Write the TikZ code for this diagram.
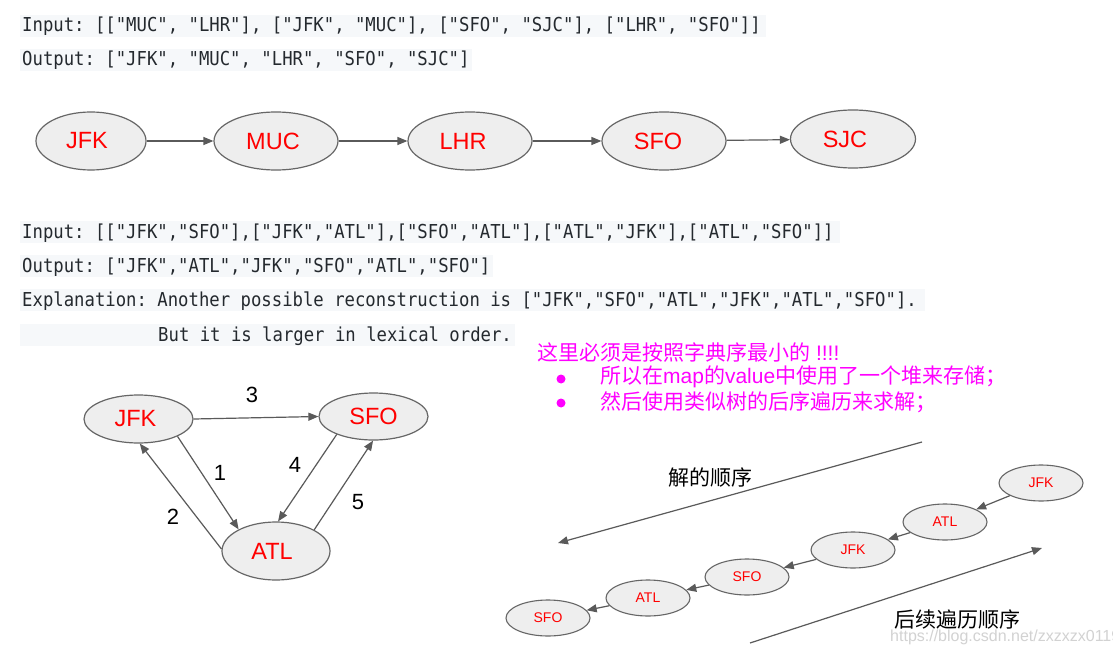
\documentclass[tikz,border=0pt]{standalone}
\usepackage{fontspec}
\setmainfont{Liberation Sans}
\setmonofont[FakeStretch=0.9]{DejaVu Sans Mono}
\newfontfamily\cjk{Noto Sans CJK SC}
\usetikzlibrary{shapes.geometric,arrows.meta}
\definecolor{codebg}{HTML}{F6F8FA}
\definecolor{codefg}{HTML}{24292E}
\definecolor{nodefill}{HTML}{EEEEEE}
\definecolor{nodeline}{HTML}{666666}
\definecolor{arrowc}{HTML}{5A5A5A}
\definecolor{pinktext}{HTML}{FF00FF}
\definecolor{wmark}{HTML}{D2D2D2}
\begin{document}
\begin{tikzpicture}[x=1pt,y=-1pt,
  code/.style={anchor=base west, inner sep=0pt, font=\ttfamily\fontsize{19.2}{22}\selectfont, text=codefg},
  bignode/.style={ellipse, draw=nodeline, fill=nodefill, line width=1.2pt, inner sep=0pt, text=red, font=\fontsize{23.5}{26}\selectfont},
  smallnode/.style={ellipse, draw=nodeline, fill=nodefill, line width=1.1pt, minimum width=84pt, minimum height=36pt, inner sep=0pt, text=red, font=\fontsize{14}{16}\selectfont},
  conn/.style={draw=arrowc, line width=1.2pt, -{Triangle[length=10pt,width=8pt]}},
  numlab/.style={inner sep=0pt, font=\fontsize{22}{24}\selectfont, text=black},
  cjklab/.style={inner sep=0pt, font=\cjk\fontsize{21}{24}\selectfont, text=black},
  pinklab/.style={anchor=west, inner sep=0pt, font=\cjk\fontsize{21}{24}\selectfont, text=pinktext},
  bulletdot/.style={circle, fill=pinktext, minimum size=9pt, inner sep=0pt}
]
\useasboundingbox (0,0) rectangle (1113,647);
\fill[white] (0,0) rectangle (1113,647);

% ---- first example text ----
\fill[codebg] (20,15) rectangle (766,37);
\node[code] (in1) at (22,32) {Input: [["MUC", "LHR"], ["JFK", "MUC"], ["SFO", "SJC"], ["LHR", "SFO"]]};
\fill[codebg] (20,49) rectangle (472,71);
\node[code] (out1) at (22,66) {Output: ["JFK", "MUC", "LHR", "SFO", "SJC"]};

% ---- first chain ----
\node[bignode, minimum width=110pt, minimum height=58pt] (c1) at (91,141) {JFK\kern8pt};
\node[bignode, minimum width=124pt, minimum height=58pt] (c2) at (276,141) {MUC\kern6pt};
\node[bignode, minimum width=124pt, minimum height=58pt] (c3) at (470,141) {LHR\kern14pt};
\node[bignode, minimum width=124pt, minimum height=58pt] (c4) at (664,141) {SFO\kern12pt};
\node[bignode, minimum width=125pt, minimum height=58pt] (c5) at (853,139) {SJC\kern16pt};
\draw[conn] (c1) -- (c2);
\draw[conn] (c2) -- (c3);
\draw[conn] (c3) -- (c4);
\draw[conn] (c4) -- (c5);

% ---- second example text ----
\fill[codebg] (20,221) rectangle (840,243);
\node[code] (in2) at (22,238) {Input: [["JFK","SFO"],["JFK","ATL"],["SFO","ATL"],["ATL","JFK"],["ATL","SFO"]]};
\fill[codebg] (20,255) rectangle (493,277);
\node[code] (out2) at (22,272) {Output: ["JFK","ATL","JFK","SFO","ATL","SFO"]};
\fill[codebg] (20,289) rectangle (925,311);
\node[code] (exp2) at (22,306) {Explanation: Another possible reconstruction is ["JFK","SFO","ATL","JFK","ATL","SFO"].};
\fill[codebg] (20,324) rectangle (515,346);
\node[code] (but2) at (158,341) {But it is larger in lexical order.};

% ---- pink notes ----
\node[pinklab] (note) at (537,352) {这里必须是按照字典序最小的{\rmfamily\ !!!!}};
\node[bulletdot] (b1dot) at (561,379) {};
\node[pinklab] (note1) at (600,377) {所以在{\rmfamily map}的{\rmfamily value}中使用了一个堆来存储；};
\node[bulletdot] (b2dot) at (561,403) {};
\node[pinklab] (note2) at (600,402) {然后使用类似树的后序遍历来求解；};

% ---- graph ----
\node[bignode, minimum width=109pt, minimum height=48pt] (gj) at (138.5,419) {JFK\kern6pt};
\node[bignode, minimum width=109pt, minimum height=47pt] (gs) at (373.5,416.5) {SFO};
\node[bignode, minimum width=108pt, minimum height=58pt] (ga) at (276,551) {ATL\kern8pt};
\draw[conn] (gj.-24.5) -- (ga.150);
\draw[conn] (ga.178) -- (gj.-87);
\draw[conn] (gj.east) -- (gs.west);
\draw[conn] (gs.-154) -- (ga.86);
\draw[conn] (ga.29) -- (gs.-91);
\node[numlab] (l1) at (220,473) {1};
\node[numlab] (l2) at (173,517) {2};
\node[numlab] (l3) at (252,395) {3};
\node[numlab] (l4) at (295,465) {4};
\node[numlab] (l5) at (358,502) {5};

% ---- traversal ----
\coordinate (s1) at (922,442);
\coordinate (s2) at (558,543);
\draw[conn] (s1) -- (s2);
\node[cjklab] (solorder) at (710,478) {解的顺序};
\coordinate (p1) at (750,643);
\coordinate (p2) at (1042,548);
\draw[conn] (p1) -- (p2);
\node[cjklab] (postorder) at (957,620) {后续遍历顺序};

\node[smallnode] (t1) at (1041,483) {JFK};
\node[smallnode] (t2) at (945,522) {ATL};
\node[smallnode] (t3) at (853,550) {JFK};
\node[smallnode] (t4) at (747,577) {SFO};
\node[smallnode] (t5) at (648,598) {ATL};
\node[smallnode] (t6) at (548,618) {SFO};
\draw[conn] (t1) -- (t2);
\draw[conn] (t2) -- (t3);
\draw[conn] (t3) -- (t4);
\draw[conn] (t4) -- (t5);
\draw[conn] (t5) -- (t6);

\node[anchor=west, inner sep=0pt, text=wmark, font=\fontsize{16}{18}\selectfont] (wm) at (890,637) {https://blog.csdn.net/zxzxzx0119};
\end{tikzpicture}
\end{document}
